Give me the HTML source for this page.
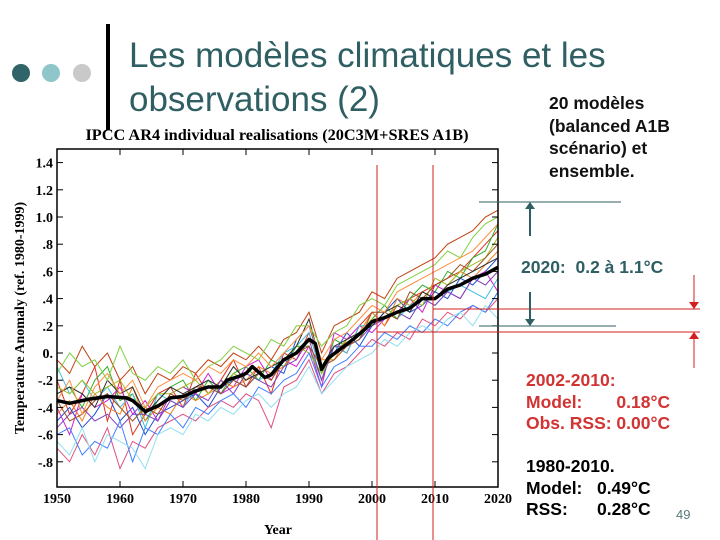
<!DOCTYPE html>
<html><head><meta charset="utf-8"><style>
body{margin:0;width:720px;height:540px;background:#fff;overflow:hidden;position:relative;font-family:"Liberation Sans",sans-serif}
.abs{position:absolute;margin:0;white-space:pre}
</style></head><body>
<div class="abs" style="left:12px;top:64px;width:18px;height:18px;border-radius:50%;background:#2f6468"></div>
<div class="abs" style="left:42px;top:64px;width:18px;height:18px;border-radius:50%;background:#8fc6ca"></div>
<div class="abs" style="left:73px;top:64px;width:18px;height:18px;border-radius:50%;background:#c9c9c9"></div>
<div class="abs" style="left:106px;top:24px;width:4px;height:106px;background:#000"></div>
<div class="abs" style="left:129px;top:34px;font-size:35px;line-height:44px;color:#2f5f63">Les modèles climatiques et les
observations (2)</div>
<div class="abs" style="left:549px;top:92px;font-size:17.5px;font-weight:bold;line-height:22.5px;color:#111">20 modèles
(balanced A1B
scénario) et
ensemble.</div>
<div class="abs" style="left:521px;top:257px;font-size:17.5px;font-weight:bold;color:#2f5f63">2020:  0.2 à 1.1°C</div>
<div class="abs" style="left:526px;top:370px;font-size:17.5px;font-weight:bold;line-height:21.5px;color:#d23333">2002-2010:
Model:       0.18°C
Obs. RSS: 0.00°C</div>
<div class="abs" style="left:526px;top:456px;font-size:17.5px;font-weight:bold;line-height:21.5px;color:#000">1980-2010.
Model:   0.49°C
RSS:      0.28°C</div>
<div class="abs" style="left:676px;top:507px;font-size:13px;color:#5a7a7c">49</div>
<svg id="chart" class="abs" style="left:0;top:0" width="720" height="540"></svg>
<script>
const years=[];for(let y=1950;y<=2020;y+=2)years.push(y);
const meanYears=[1950,1952,1955,1958,1961,1962,1964,1966,1968,1970,1972,1974,1976,1977,1979,1980,1981,1982,1983,1984,1986,1988,1989,1990,1991,1992,1993,1995,1997,1999,2000,2002,2004,2006,2008,2010,2012,2014,2016,2018,2020];
const meanVals=[-0.35,-0.37,-0.34,-0.32,-0.33,-0.35,-0.43,-0.39,-0.33,-0.32,-0.28,-0.25,-0.25,-0.2,-0.17,-0.15,-0.1,-0.14,-0.18,-0.16,-0.05,0,0.05,0.1,0.07,-0.12,-0.04,0.03,0.1,0.18,0.23,0.26,0.3,0.33,0.4,0.4,0.47,0.5,0.55,0.58,0.63];
const m1=[-20,-45,-30,-10,-50,-20,-60,-45,-30,-25,-40,-15,-30,-20,-5,-25,-10,-30,0,-5,15,-15,5,0,20,30,20,35,40,45,50,55,60,70,80,90];
const m2=[-30,-25,-40,-20,-10,-35,-30,-50,-35,-25,-20,-35,-20,-30,-15,-10,-20,-5,-10,5,5,-20,10,5,10,25,35,25,40,50,45,60,55,70,75,95];
const m3=[-50,-40,-55,-45,-30,-50,-40,-60,-45,-40,-35,-30,-40,-25,-20,-25,-15,-10,-15,10,20,-10,0,15,5,20,30,40,30,35,45,40,55,50,60,70];
const m4=[-40,-60,-30,-40,-35,-25,-45,-35,-50,-30,-25,-30,-15,-30,-25,-10,-5,-20,-5,-10,5,-25,15,10,20,15,25,30,40,30,50,45,40,55,60,45];
const m5=[-45,-35,-50,-30,-40,-45,-25,-50,-40,-45,-30,-35,-30,-20,-25,-20,-10,-15,-10,0,10,-5,-5,10,15,30,20,40,35,45,40,50,60,55,65,75];
const m6=[-10,-30,-20,-35,-25,-40,-30,-55,-30,-35,-40,-25,-25,-30,-20,-15,-20,-15,0,5,15,-15,5,0,20,20,30,25,35,40,35,45,50,45,40,55];
const m7=[-25,-30,-20,-30,-25,-20,-35,-40,-30,-30,-25,-20,-30,-25,-15,-20,-15,-10,-5,5,0,-15,0,10,15,25,25,35,40,35,55,50,60,65,70,85];
const m8=[-55,-45,-40,-50,-45,-55,-45,-45,-50,-35,-40,-30,-35,-20,-30,-15,-20,-25,-10,-5,10,-20,5,5,10,20,25,30,25,40,35,45,40,55,50,60];
const m9=[-35,-50,-45,-35,-30,-40,-50,-40,-45,-30,-35,-25,-25,-30,-20,-25,-15,-20,-5,0,5,-10,-5,5,10,30,30,25,45,40,50,55,65,60,70,80];
const m10=[-30,-25,-30,-40,-20,-30,-25,-45,-35,-25,-30,-25,-20,-25,-10,-20,-15,-10,-5,5,25,-10,5,10,15,20,30,35,30,45,40,50,55,60,65,70];
const m11=[-70,-80,-60,-75,-55,-85,-65,-70,-55,-50,-45,-50,-40,-35,-40,-30,-35,-55,-25,-20,-5,-30,-15,-10,0,10,5,15,10,25,20,30,25,35,30,40];
const m12=[-5,-15,5,-10,0,-20,-10,-30,-15,-20,-10,-15,-5,-10,0,-5,5,-5,10,15,30,0,20,25,30,45,40,55,60,65,70,80,85,90,100,105];
const m13=[-60,-55,-75,-65,-70,-50,-80,-55,-60,-45,-55,-40,-45,-35,-30,-40,-25,-30,-20,-15,0,-25,-10,-5,5,5,15,10,20,15,25,20,30,35,30,45];
const m14=[-15,0,-10,-5,-20,5,-15,-20,-10,-15,-5,-20,-10,-5,5,0,-5,10,5,20,20,5,15,20,35,40,35,50,55,60,65,75,70,85,95,100];
const m15=[-65,-75,-55,-80,-60,-65,-70,-85,-60,-55,-60,-45,-50,-40,-45,-35,-30,-40,-30,-25,-10,-30,-20,-10,-5,0,10,5,15,20,15,25,30,20,35,25];
const m16=[-35,-20,-45,-25,-15,-30,-20,-40,-25,-20,-15,-20,-10,-15,-5,-10,0,-10,0,10,20,-5,10,15,25,35,30,45,50,55,60,65,70,75,85,95];
const memberColors=["#e03020","#30b030","#2050d0","#d020d0","#f08020","#40c0e0","#a0c020","#8040c0","#a05020","#303030","#e05080","#c04010","#4080ff","#80d040","#90e0f0","#ff9040"];
const members=[m1,m2,m3,m4,m5,m6,m7,m8,m9,m10,m11,m12,m13,m14,m15,m16];
const yTicks=[1.4,1.2,1.0,0.8,0.6,0.4,0.2,0,-0.2,-0.4,-0.6,-0.8];
const yTickLabels=["1.4","1.2","1.0",".8",".6",".4",".2","0.","-.2","-.4","-.6","-.8"];
const xTicks=[1950,1960,1970,1980,1990,2000,2010,2020];

const L=57,R=498,T=149,B=487;
const xs=y=>L+(y-1950)*(R-L)/70;
const ys=v=>353-136*v;
const svg=document.getElementById('chart');
const NS="http://www.w3.org/2000/svg";
function mk(tag,attrs){const e=document.createElementNS(NS,tag);for(const k in attrs)e.setAttribute(k,attrs[k]);svg.appendChild(e);return e;}

members.forEach((m,i)=>{
  const p=mk('polyline',{points:m.map((v,j)=>xs(years[j])+','+ys(v/100)).join(' '),fill:'none',stroke:memberColors[i],'stroke-width':1});
  
  
});
const mean=mk('polyline',{points:meanVals.map((v,j)=>xs(meanYears[j])+','+ys(v)).join(' '),fill:'none',stroke:'#000','stroke-width':3.5,'stroke-linejoin':'round'});



const frame=mk('rect',{x:L,y:T,width:R-L,height:B-T,fill:'none',stroke:'#000','stroke-width':1.5});


yTicks.forEach((v,i)=>{
  mk('line',{x1:L,x2:L+6,y1:ys(v),y2:ys(v),stroke:'#000'});
  mk('line',{x1:R-6,x2:R,y1:ys(v),y2:ys(v),stroke:'#000'});
  const t=mk('text',{x:L-4,y:ys(v)+5,'text-anchor':'end','font-family':'Liberation Serif,serif','font-weight':'bold','font-size':14});
  t.textContent=yTickLabels[i];
  
  
});
xTicks.forEach(y=>{
  mk('line',{x1:xs(y),x2:xs(y),y1:B,y2:B-6,stroke:'#000'});
  mk('line',{x1:xs(y),x2:xs(y),y1:T,y2:T+6,stroke:'#000'});
  const t=mk('text',{x:xs(y),y:B+16,'text-anchor':'middle','font-family':'Liberation Serif,serif','font-weight':'bold','font-size':14});
  t.textContent=y;
  
  
});
let t=mk('text',{x:278,y:534,'text-anchor':'middle','font-family':'Liberation Serif,serif','font-weight':'bold','font-size':14});
t.textContent='Year';


t=mk('text',{x:0,y:0,transform:'translate(24,318) rotate(-90)','text-anchor':'middle','font-family':'Liberation Serif,serif','font-weight':'bold','font-size':14});
t.textContent='Temperature Anomaly (ref. 1980-1999)';


t=mk('text',{x:277,y:140,'text-anchor':'middle','font-family':'Liberation Serif,serif','font-weight':'bold','font-size':16.3});
t.textContent='IPCC AR4 individual realisations (20C3M+SRES A1B)';



const red="#d02020",teal="#2f5f63";
mk('line',{x1:377,x2:377,y1:165,y2:540,stroke:red});
mk('line',{x1:433,x2:433,y1:165,y2:540,stroke:red});
mk('line',{x1:433,x2:700,y1:309,y2:309,stroke:red});
mk('line',{x1:377,x2:700,y1:332,y2:332,stroke:red});
mk('line',{x1:694,x2:694,y1:275,y2:304,stroke:red});
mk('polygon',{points:'689,302 699,302 694,309',fill:red});
mk('line',{x1:694,x2:694,y1:338,y2:368,stroke:red});
mk('polygon',{points:'689,339 699,339 694,332',fill:red});
mk('line',{x1:479,x2:621,y1:202,y2:202,stroke:teal});
mk('line',{x1:479,x2:616,y1:326,y2:326,stroke:teal});
mk('line',{x1:530,x2:530,y1:208,y2:236,stroke:teal,'stroke-width':2});
mk('polygon',{points:'525,209 535,209 530,202',fill:teal});
mk('line',{x1:530,x2:530,y1:292,y2:320,stroke:teal,'stroke-width':2});
mk('polygon',{points:'525,319 535,319 530,326',fill:teal});
</script>
</body></html>
